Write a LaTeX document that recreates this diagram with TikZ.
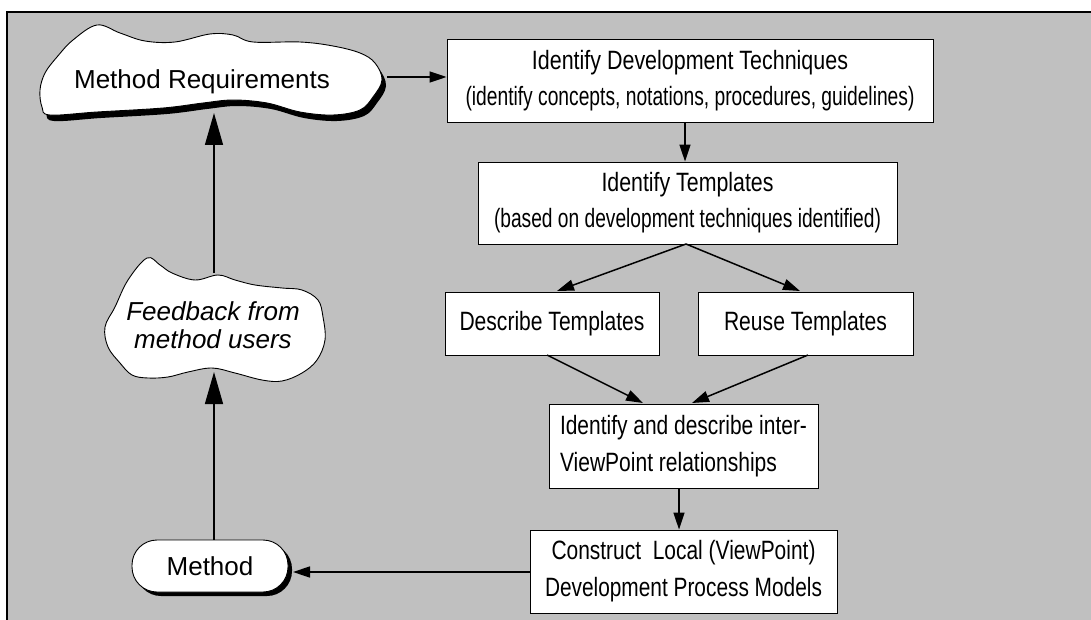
\documentclass[tikz,border=0pt]{standalone}
\usepackage{fontspec}
\usepackage{graphicx}
\setmainfont{Liberation Sans}
\usetikzlibrary{arrows.meta,shadows}
\definecolor{panelgray}{HTML}{C0C0C0}
\newcommand{\fitline}[2]{\resizebox{#1}{\height}{#2}}
\begin{document}
\begin{tikzpicture}[x=1pt,y=-1pt,
  box/.style={draw=black, line width=0.9pt, fill=white, inner sep=0pt,
    font=\fontsize{26.5}{36}\selectfont, align=center},
  arr/.style={line width=1.5pt, -{Triangle[length=17pt,width=11pt]}},
  bigarr/.style={line width=1.5pt, -{Triangle[length=32pt,width=18pt]}},
  cloudtext/.style={font=\fontsize{26}{28}\selectfont, align=center, inner sep=0pt},
  cloudline/.style={draw=black, line width=0.9pt, fill=white}]
\useasboundingbox (0,0) rectangle (1091,620);
\fill[white] (0,0) rectangle (1091,620);
\fill[panelgray] (7,12) rectangle (1091,620);
\draw[line width=2pt] (7,620) -- (7,12) -- (1091,12);

% Method Requirements cloud (shadow then outline)
\fill[black, shift={(4,6)}] plot[smooth cycle, tension=0.6] coordinates {
  (97,25) (120,33) (145,41) (175,42) (210,34) (233,35) (253,42) (300,42)
  (333,46) (360,53) (375,63) (382,80) (373,97) (360,110) (333,115) (300,112)
  (267,103) (233,100) (203,103) (163,108) (97,112) (50,115) (42,107) (40,90)
  (45,73) (57,57) (73,40)};
\path[cloudline] plot[smooth cycle, tension=0.6] coordinates {
  (97,25) (120,33) (145,41) (175,42) (210,34) (233,35) (253,42) (300,42)
  (333,46) (360,53) (375,63) (382,80) (373,97) (360,110) (333,115) (300,112)
  (267,103) (233,100) (203,103) (163,108) (97,112) (50,115) (42,107) (40,90)
  (45,73) (57,57) (73,40)};
\node[cloudtext, anchor=base] (mr) at (202,89) {Method Requirements};

% Feedback cloud
\path[cloudline] plot[smooth cycle, tension=0.6] coordinates {
  (147,258) (160,265) (172,273) (195,280) (218,275) (235,280) (255,285)
  (282,288) (302,290) (318,300) (323,317) (325,340) (317,360) (302,373)
  (282,381) (262,380) (235,373) (212,368) (188,372) (168,377) (148,378)
  (132,375) (120,363) (108,347) (105,327) (115,307) (128,280)};
\node[cloudtext, font=\itshape\fontsize{26}{28}\selectfont] (fb) at (213,325) {Feedback from\\method users};

% Boxes
\node[box, minimum width=486pt, minimum height=83pt] (tech) at (690,80.5)
  {\fitline{316pt}{Identify Development Techniques}\\
   \fitline{449pt}{(identify concepts, notations, procedures, guidelines)}};
\node[box, minimum width=419pt, minimum height=82pt] (templ) at (687.5,203)
  {\fitline{172pt}{Identify Templates}\\
   \fitline{387pt}{(based on development techniques identified)}};
\node[box, minimum width=214pt, minimum height=63pt] (desc) at (552,323.5)
  {\fitline{185pt}{Describe Templates}};
\node[box, minimum width=215pt, minimum height=63pt] (reuse) at (805.5,323.5)
  {\fitline{163pt}{Reuse Templates}};
\node[box, minimum width=269pt, minimum height=84pt, align=left,
  font=\fontsize{26.5}{37}\selectfont] (inter) at (683.5,446)
  {\fitline{247pt}{Identify and describe inter-}\\
   \fitline{217pt}{ViewPoint relationships}};
\node[box, minimum width=307pt, minimum height=83pt,
  font=\fontsize{26.5}{37}\selectfont] (constr) at (683.5,571.5)
  {\fitline{264pt}{Construct~ Local (ViewPoint)}\\
   \fitline{277pt}{Development Process Models}};

% Method node
\node[draw=black, line width=0.9pt, fill=white, rounded corners=25pt,
  minimum width=156pt, minimum height=52pt, inner sep=0pt,
  font=\fontsize{26}{28}\selectfont,
  drop shadow={shadow xshift=4pt, shadow yshift=-4pt, fill=black, opacity=1}]
  (method) at (210,566) {Method};

% Connector anchor points
\coordinate (mrE) at (387,77);
\coordinate (mrB) at (214,113);
\coordinate (fbT) at (214,273);
\coordinate (fbB) at (214,372);
\coordinate (c1) at (685,0);
\coordinate (c2) at (679,0);
\coordinate (tsplit) at (686,244);
\coordinate (dIn) at (557,291);
\coordinate (rIn) at (800,291);
\coordinate (dOut) at (547,355);
\coordinate (rOut) at (808,355);
\coordinate (iInL) at (643,403);
\coordinate (iInR) at (692,403);
\coordinate (mE) at (293,572);

% Connectors
\draw[arr] (mrE) -- (tech.west |- mrE);
\draw[arr] (tech.south -| c1) -- (templ.north -| c1);
\draw[arr] (tsplit) -- (dIn);
\draw[arr] (tsplit) -- (rIn);
\draw[arr] (dOut) -- (iInL);
\draw[arr] (rOut) -- (iInR);
\draw[arr] (inter.south -| c2) -- (constr.north -| c2);
\draw[arr] (constr.west |- mE) -- (mE);
\draw[bigarr] (method.north -| fbB) -- (fbB);
\draw[bigarr] (fbT) -- (mrB);
\end{tikzpicture}
\end{document}
